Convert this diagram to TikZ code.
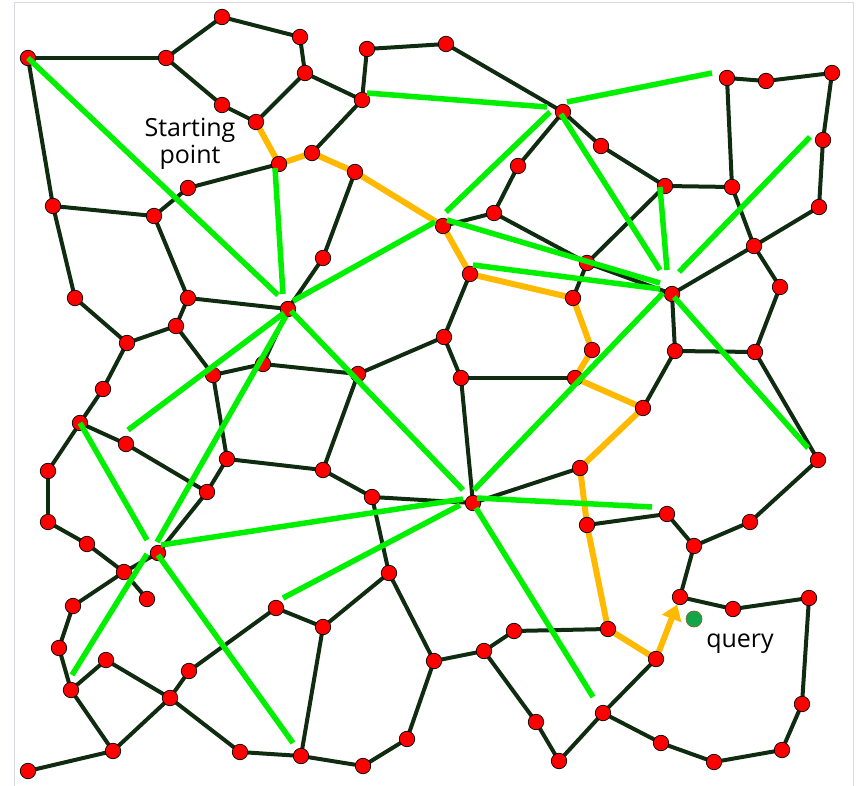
\documentclass[tikz,border=0pt]{standalone}
\usepackage{fontspec}
\setmainfont{Open Sans}
\usetikzlibrary{arrows.meta}
\pgfdeclarelayer{bg}
\pgfdeclarelayer{mid}
\pgfdeclarelayer{fg}
\pgfsetlayers{bg,mid,main,fg}
\definecolor{edgec}{RGB}{16,44,16}
\definecolor{linkc}{RGB}{0,240,0}
\definecolor{routec}{RGB}{255,185,0}
\definecolor{queryc}{RGB}{20,165,75}
\definecolor{queryo}{RGB}{120,110,40}
\definecolor{framec}{RGB}{215,218,222}
\begin{document}
\begin{tikzpicture}[x=1pt,y=-1pt,
  vtx/.style={circle,fill=red,draw=black,line width=0.7pt,minimum size=15.5pt,inner sep=0pt},
  edge/.style={draw=edgec,line width=4pt},
  link/.style={draw=linkc,line width=5.5pt},
  route/.style={draw=routec,line width=6pt,line cap=round},
  lbl/.style={font=\fontsize{25}{25}\selectfont,inner sep=0pt,anchor=base}]
\useasboundingbox (0,0) rectangle (857,786);
\draw[framec,line width=0.8pt] (14.5,790) -- (14.5,2.5) -- (853,2.5) -- (853,790);
% vertices
\foreach \n/\x/\y in {
A/28/58, B/166/58, C/222/17, D/300/37, E/305/73, F/222/105, G/256/122, H/279/164,
I/188/188, J/154/216, K/53/206, L/367/49, M/446/44, N/362/100, O/563/112, P/312/153,
Q/355/172, R/518/166, S/494/213, T/443/226, U/323/258, V/727/78, W/766/81, X/832/73,
Y/601/146, Z/665/186, AA/732/187, AB/823/140, AC/819/207, AD/754/246, BB/587/263,
HB/672/294, AE/75/298, AF/188/298, AG/176/326, AH/127/343, AI/103/389, AJ/80/423,
AK/126/444, AL/48/471, AM/48/522, AN/213/375, AO/263/364, AP/227/459, AQ/207/492,
HA/288/309, RB/470/274, AR/573/298, AS/444/337, AT/461/378, AU/358/374, AV/575/378,
AW/323/470, AX/372/497, HD/473/503, BG/580/468, AZ/780/287, BC/592/350, BD/675/351,
BE/755/352, BF/643/408, BH/818/460, BI/667/514, BJ/587/525, BK/750/522, BL/694/546,
BN/680/597, BO/733/609, BP/809/598, BQ/608/629, BR/656/659, BS/603/713, BT/802/704,
BU/661/743, BV/714/762, BW/782/750, BX/559/761, BY/514/631, BZ/87/544, CA/124/572,
CB/147/599, HC/158/553, CC/73/606, CD/59/648, CE/71/690, CF/106/660, CG/170/698,
CH/189/671, CI/276/608, CJ/113/751, CK/28/771, CL/240/752, CM/301/756, CN/323/627,
BA/389/573, CO/363/766, CP/407/739, CQ/434/661, CR/484/651, CS/536/722}
  {\node[vtx] (\n) at (\x,\y) {};}
% graph edges
\begin{pgfonlayer}{bg}
\foreach \a/\b in {A/B, A/K, B/C, C/D, D/E, B/F, F/G, G/E, E/N, L/M, L/N, M/O, N/P,
H/I, I/J, J/K, K/AE, J/AF, Q/U, O/R, R/S, S/T, S/BB, O/Y, Y/Z, Z/AA, V/W, W/X, V/AA,
X/AB, AB/AC, AA/AD, AC/AD, AD/HB, AD/AZ, Z/BB, BB/HB, BB/AR, U/HA, AE/AH, AF/AG, AG/AH,
AF/HA, AG/AN, AN/AO, AO/HA, AH/AI, AI/AJ, AJ/AK, AJ/AL, AL/AM, AK/AQ, AN/AP, AP/AQ,
AP/AW, AQ/HC, AO/AU, AU/AS, AS/RB, AS/AT, AT/AV, AT/HD, AU/AW, AW/AX, AX/HD, AX/BA,
HD/BG, HB/BD, BD/BE, AZ/BE, BD/BF, BE/BH, BH/BK, BK/BL, BL/BI, BI/BJ, BL/BN, BN/BO,
BO/BP, BP/BT, BT/BW, BW/BV, BV/BU, BU/BS, BS/BR, BS/BX, BQ/BY, BY/CR, CR/CQ, CQ/BA,
CQ/CP, CP/CO, CO/CM, CR/CS, CS/BX, BA/CN, CN/CI, CN/CM, CI/CH, CH/CG, CG/CF, CF/CE,
CE/CD, CD/CC, CC/CA, CA/BZ, BZ/AM, CA/CB, CA/HC, CE/CJ, CJ/CG, CJ/CK, CG/CL, CL/CM}
  {\draw[edge] (\a.center) -- (\b.center);}
\end{pgfonlayer}
% route
\begin{pgfonlayer}{mid}
\draw[route,line join=round] (G.center) -- (H.center) -- (P.center) -- (Q.center) -- (T.center)
  -- (RB.center) -- (AR.center) -- (BC.center) -- (AV.center) -- (BF.center) -- (BG.center)
  -- (BJ.center) -- (BQ.center) -- (BR.center);
\draw[routec,line width=6pt,-{Triangle[length=15pt,width=20pt]}] (BR.center) -- (BN);
\end{pgfonlayer}
% long links
\foreach \n/\x/\y in {
a1/28/58, a2/278/295, b1/275/168, b2/283/294, c1/293/301, c2/435/222,
d1/291/311, d2/463/490, e1/284/313, e2/128/430, f1/286/316, f2/157/542,
g1/80/423, g2/147/540, h1/147/554, h2/72/675, i1/158/555, i2/293/743,
j1/161/545, j2/463/499, k1/283/598, k2/460/505, l1/476/508, l2/593/697,
m1/477/498, m2/652/507, n1/474/490, n2/663/293, o1/674/297, o2/808/448,
p1/679/272, p2/810/137, q1/660/187, q2/667/270, r1/561/114, r2/660/270,
s1/473/265, s2/660/289, t1/447/220, t2/660/283, u1/550/112, u2/446/212,
v1/367/93, v2/547/107, w1/567/102, w2/712/73}
  {\coordinate (\n) at (\x,\y);}
\begin{pgfonlayer}{fg}
\foreach \k in {a,b,c,d,e,f,g,h,i,j,k,l,m,n,o,p,q,r,s,t,u,v,w}
  {\draw[link] (\k1) -- (\k2);}
\end{pgfonlayer}
% query
\node[circle,fill=queryc,draw=queryo,line width=0.7pt,minimum size=16pt,inner sep=0pt] (qdot) at (694,619) {};
\node[lbl] (qlabel) at (740,647) {query};
\node[lbl] (start1) at (190,137) {Starting};
\node[lbl] (start2) at (190,164) {point};
\end{tikzpicture}
\end{document}
